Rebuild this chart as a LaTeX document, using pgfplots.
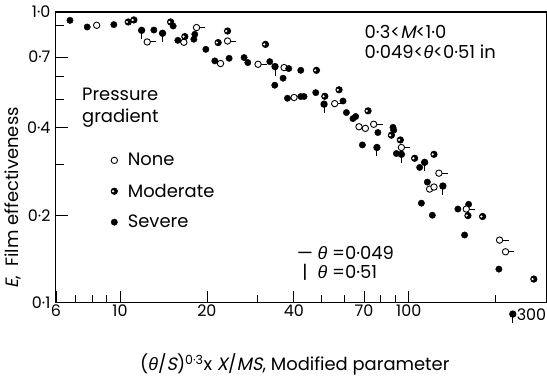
\documentclass[border=0pt]{standalone}
\usepackage{fontspec}
\setmainfont{Poppins}[AutoFakeSlant=0.2]
\newfontfamily\gk{Liberation Sans}
\usepackage{pgfplots}
\pgfplotsset{compat=1.18}

\pgfdeclareplotmark{opentail}{%
  \pgfpathmoveto{\pgfqpoint{\pgfplotmarksize}{0pt}}%
  \pgfpathlineto{\pgfqpoint{2.8\pgfplotmarksize}{0pt}}%
  \pgfusepathqstroke
  \pgfpathcircle{\pgfpointorigin}{\pgfplotmarksize}%
  \pgfusepathqfillstroke}
\pgfdeclareplotmark{filldown}{%
  \pgfpathmoveto{\pgfqpoint{0pt}{-\pgfplotmarksize}}%
  \pgfpathlineto{\pgfqpoint{0pt}{-2.8\pgfplotmarksize}}%
  \pgfusepathqstroke
  \pgfpathcircle{\pgfpointorigin}{\pgfplotmarksize}%
  \pgfusepathqfillstroke}
\pgfdeclareplotmark{halfc}{%
  \pgfpathcircle{\pgfpointorigin}{\pgfplotmarksize}%
  \pgfsetfillcolor{black}\pgfusepathqfillstroke
  \pgfpathcircle{\pgfqpoint{-0.4\pgfplotmarksize}{0pt}}{0.38\pgfplotmarksize}%
  \pgfsetfillcolor{white}\pgfusepathqfill}

\newcommand{\thet}{{\gk\itshape θ}}

\begin{document}
\begin{tikzpicture}
\begin{axis}[
  xmode=log, ymode=log,
  xmin=6, xmax=300, ymin=0.1, ymax=1,
  width=491bp, height=291bp, scale only axis,
  axis line style={line width=1.1pt},
  xtick pos=bottom, ytick pos=left,
  xtick={6,10,20,40,70,100}, xticklabels={6,10,20,40,70,100},
  minor xtick={7,8,9,30,50,60,80,90,200},
  ytick={0.1,0.2,0.4,0.7,1}, yticklabels={0·1,0·2,0·4,0·7,1·0},
  minor ytick={0.3,0.5,0.6,0.9},
  extra x ticks={300}, extra x tick labels={300},
  extra x tick style={major tick length=0pt, xticklabel style={xshift=-15bp, yshift=-4bp}},
  major tick length=12bp, minor tick length=8bp,
  tick style={black, line width=0.8pt},
  ticklabel style={font=\fontsize{16}{18}\selectfont},
  xticklabel style={yshift=1bp},
  yticklabel style={xshift=-2bp},
  clip=false,
  xlabel={(\thet/\textit{S})\textsuperscript{0·3}x \textit{X}/\textit{MS}, Modified parameter},
  xlabel style={at={(axis description cs:0.487,-0.212)}, anchor=center, font=\fontsize{18}{20}\selectfont},
  ylabel={\textit{E},\ \ Film effectiveness},
  ylabel style={at={(axis description cs:-0.088,0.36)}, anchor=center, font=\fontsize{18}{20}\selectfont},
  legend style={draw=none, fill=none, at={(rel axis cs:0.089,0.528)}, anchor=north west,
    font=\fontsize{18}{20}\selectfont, row sep=12.5bp},
  legend cell align=left,
  legend image code/.code={%
    \path (0cm,0cm) (0.8cm,0cm);
    \draw[mark repeat=2,mark phase=2,#1] plot coordinates {(0cm,0cm) (0.4cm,0cm) (0.8cm,0cm)};},
]
\addplot[only marks, mark=*, mark size=3.2bp, mark options={fill=white, draw=black, line width=0.9pt}]
coordinates {(8.30,0.900)(16.64,0.787)(22.29,0.665)(37.0,0.644)(40.07,0.508)(67.25,0.403)(70.77,0.398)(118.1,0.246)(122.3,0.250)};
\addlegendentry{None}
\addplot[only marks, mark=halfc, mark size=3.2bp, mark options={draw=black, line width=0.8pt}]
coordinates {(10.68,0.924)(11.17,0.939)(14.97,0.924)(16.77,0.823)(21.87,0.785)(23.57,0.860)(31.9,0.774)(47.9,0.630)(51.2,0.513)(57.35,0.540)(72.3,0.457)(87.1,0.377)(93.5,0.363)(104.8,0.314)(122.3,0.324)(160.3,0.1994)(180.2,0.198)(271.2,0.1206)};
\addlegendentry{Moderate}
\addplot[only marks, mark=*, mark size=3.2bp, mark options={fill=black, draw=black}]
coordinates {(6.71,0.936)(7.70,0.888)(9.52,0.905)(13.10,0.867)(15.28,0.895)(15.86,0.799)(18.16,0.838)(18.02,0.806)(19.83,0.744)(21.30,0.679)(23.87,0.693)(26.90,0.697)(27.71,0.670)(33.02,0.675)(34.36,0.560)(36.71,0.592)(38.41,0.639)(42.27,0.630)(38.02,0.505)(42.27,0.512)(43.39,0.512)(47.64,0.528)(59.20,0.494)(60.83,0.451)(64.1,0.430)(65.5,0.437)(78.2,0.385)(69.1,0.349)(88.2,0.401)(88.7,0.392)(90.6,0.326)(109.1,0.292)(116.0,0.260)(110.6,0.220)(120.7,0.200)(148.0,0.210)(161.2,0.218)(156.1,0.171)(205.2,0.1305)};
\addlegendentry{Severe}
\addplot[only marks, mark=filldown, mark size=3.2bp, mark options={fill=black, draw=black, line width=0.9pt}, forget plot]
coordinates {(11.88,0.865)(14.04,0.845)(34.43,0.649)(50.9,0.482)(77.6,0.342)(94.3,0.324)(113.5,0.304)(131.3,0.252)(229.3,0.0914)};
\addplot[only marks, mark=opentail, mark size=3.2bp, mark options={fill=white, draw=black, line width=0.9pt}, forget plot]
coordinates {(12.42,0.789)(18.41,0.884)(23.57,0.795)(30.07,0.661)(55.41,0.484)(75.6,0.411)(94.3,0.342)(127.2,0.279)(158.2,0.210)(206.3,0.1642)(216.4,0.1497)};

\node[anchor=north west, align=left, inner sep=0pt, font=\fontsize{18}{22}\selectfont]
  at (rel axis cs:0.053,0.738) {Pressure\\gradient};
\node[anchor=north west, align=left, inner sep=0pt, font=\fontsize{18}{20}\selectfont]
  at (rel axis cs:0.629,0.955) {0·3<\textit{M}<1·0\\0·049<\thet<0·51 in};
\node[anchor=west, inner sep=0pt, font=\fontsize{18}{20}\selectfont]
  at (rel axis cs:0.491,0.13) {\begin{tabular}{@{}c@{\ }l@{}}— & \thet\ =0·049\\[-1bp] | & \thet\ =0·51\end{tabular}};
\coordinate (SW) at (rel axis cs:0,0);
\coordinate (NE) at (rel axis cs:1,1);
\end{axis}
\pgfresetboundingbox
\path ([xshift=-56bp,yshift=-74bp]SW) rectangle ([xshift=0.5bp,yshift=12bp]NE);
\end{tikzpicture}
\end{document}
